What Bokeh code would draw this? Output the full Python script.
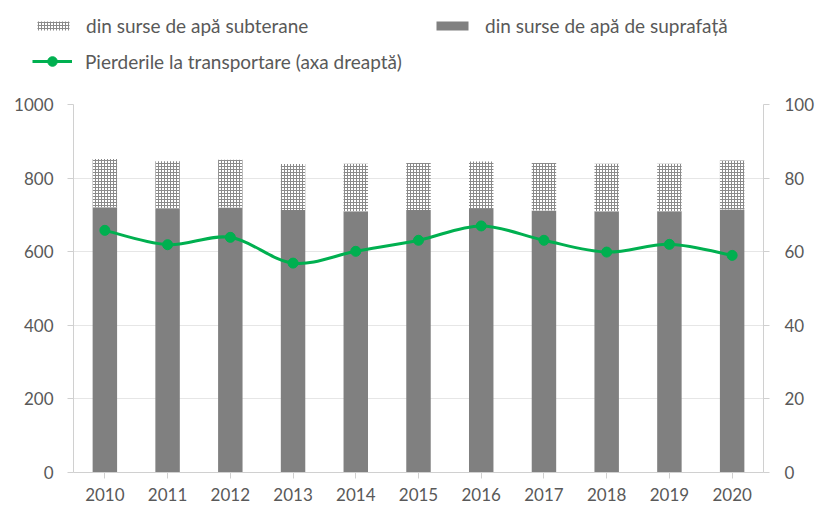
from bokeh.plotting import figure
from bokeh.layouts import column
from bokeh.models import Range1d, LinearAxis, FixedTicker, Legend, LegendItem, ColumnDataSource
from bokeh.embed import file_html
from bokeh.resources import INLINE

years = ["2010", "2011", "2012", "2013", "2014", "2015", "2016", "2017", "2018", "2019", "2020"]
surface = [721, 717, 720, 713, 709, 713, 716, 712, 709, 710, 715]
underground = [131, 129, 130, 125, 130, 128, 129, 129, 130, 129, 133]
losses = [65.8, 61.9, 63.9, 56.9, 60.1, 63.1, 67.0, 63.1, 59.9, 62.0, 59.0]

series_labels = ["din surse de apă subterane", "din surse de apă de suprafață",
                 "Pierderile la transportare (axa dreaptă)"]

FONT = "Lato"
TXT = "#595959"
AX = "#d0d0d0"
GREEN = "#00B050"
W = 817
LEG_H = 80

idx = list(range(len(years)))
totals = [s + u for s, u in zip(surface, underground)]

src = ColumnDataSource(dict(x=idx, surface=surface, total=totals, losses=losses))

p = figure(width=W, height=507 - LEG_H, output_backend="svg", toolbar_location=None,
           x_range=Range1d(-0.5, len(years) - 0.5), y_range=Range1d(0, 1000),
           min_border_left=73, min_border_right=51, min_border_top=104 - LEG_H,
           min_border_bottom=35)
p.extra_y_ranges = {"right": Range1d(0, 100)}
p.outline_line_color = None

surf_style = dict(fill_color="#808080", line_color=None)
sub_style = dict(fill_color="white", line_color=None, hatch_pattern="cross",
                 hatch_color="#8a8a8a", hatch_scale=3, hatch_weight=1)

p.vbar(x="x", bottom=0, top="surface", width=0.39, source=src, **surf_style)
p.vbar(x="x", bottom="surface", top="total", width=0.39, source=src, **sub_style)

# smooth curve (Excel-like) through the data points
n = len(idx)
x0, y0, x1, y1, cx0, cy0, cx1, cy1 = ([] for _ in range(8))
for i in range(n - 1):
    pm = i - 1 if i > 0 else i
    pp = i + 2 if i + 2 < n else i + 1
    x0.append(idx[i]); y0.append(losses[i])
    x1.append(idx[i + 1]); y1.append(losses[i + 1])
    cx0.append(idx[i] + (idx[i + 1] - idx[pm]) / 6.0)
    cy0.append(losses[i] + (losses[i + 1] - losses[pm]) / 6.0)
    cx1.append(idx[i + 1] - (idx[pp] - idx[i]) / 6.0)
    cy1.append(losses[i + 1] - (losses[pp] - losses[i]) / 6.0)
p.bezier(x0=x0, y0=y0, x1=x1, y1=y1, cx0=cx0, cy0=cy0, cx1=cx1, cy1=cy1,
         line_color=GREEN, line_width=3, y_range_name="right")
p.scatter(x="x", y="losses", source=src, size=10, fill_color=GREEN,
          line_color=GREEN, y_range_name="right")

# axes
p.xaxis.ticker = FixedTicker(ticks=idx)
p.xaxis.major_label_overrides = {i: y for i, y in zip(idx, years)}
p.yaxis.ticker = FixedTicker(ticks=[0, 200, 400, 600, 800, 1000])
right = LinearAxis(y_range_name="right", ticker=FixedTicker(ticks=[0, 20, 40, 60, 80, 100]))
p.add_layout(right, "right")

for ax in [p.xaxis[0], p.yaxis[0], right]:
    ax.axis_line_color = AX
    ax.major_tick_line_color = AX
    ax.minor_tick_line_color = None
    ax.major_tick_in = 0
    ax.major_tick_out = 6
    ax.major_label_text_font = FONT
    ax.major_label_text_font_size = "17px"
    ax.major_label_text_color = TXT
p.xaxis.major_label_standoff = 9
p.yaxis[0].major_label_standoff = 14
right.major_label_standoff = 15

p.xgrid.grid_line_color = None
p.ygrid.ticker = FixedTicker(ticks=[200, 400, 600, 800])
p.ygrid.grid_line_color = "#e6e6e6"
p.ygrid.grid_line_width = 1

# legend strip: separate figure above the chart; its renderers reuse the series
# data but sit outside this strip's visible ranges, so only the legend shows
lf = figure(width=W, height=LEG_H, output_backend="svg", toolbar_location=None,
            x_range=Range1d(-100, -99), y_range=Range1d(-100, -99),
            x_axis_type=None, y_axis_type=None,
            min_border_left=0, min_border_right=0, min_border_top=0, min_border_bottom=0)
lf.frame_align = False
lf.outline_line_color = None
lf.grid.grid_line_color = None
l_sub = lf.vbar(x="x", bottom="surface", top="total", width=0.39, source=src, **sub_style)
l_surf = lf.vbar(x="x", bottom=0, top="surface", width=0.39, source=src, **surf_style)
l_line = lf.line(x="x", y="losses", source=src, line_color=GREEN, line_width=3)
l_pts = lf.scatter(x="x", y="losses", source=src, size=10, fill_color=GREEN, line_color=GREEN)

leg1 = Legend(items=[LegendItem(label=series_labels[0], renderers=[l_sub]),
                     LegendItem(label=series_labels[1], renderers=[l_surf])],
              orientation="horizontal", location=(33, 43))
leg2 = Legend(items=[LegendItem(label=series_labels[2], renderers=[l_line, l_pts])],
              orientation="horizontal", location=(32, 7))
for lg in (leg1, leg2):
    lg.padding = 0
    lg.margin = 0
    lg.border_line_color = None
    lg.background_fill_alpha = 0
    lg.glyph_width = 40
    lg.label_height = 20
    lg.label_standoff = 13
    lg.label_text_font = FONT
    lg.label_text_font_size = "19px"
    lg.label_text_color = TXT
    lg.click_policy = "none"
leg1.glyph_height = 11
leg1.label_width = 330
leg1.spacing = 16
leg2.glyph_height = 24
lf.add_layout(leg1, "center")
lf.add_layout(leg2, "center")

open("out.html", "w").write(file_html(column(lf, p, spacing=0), INLINE))
